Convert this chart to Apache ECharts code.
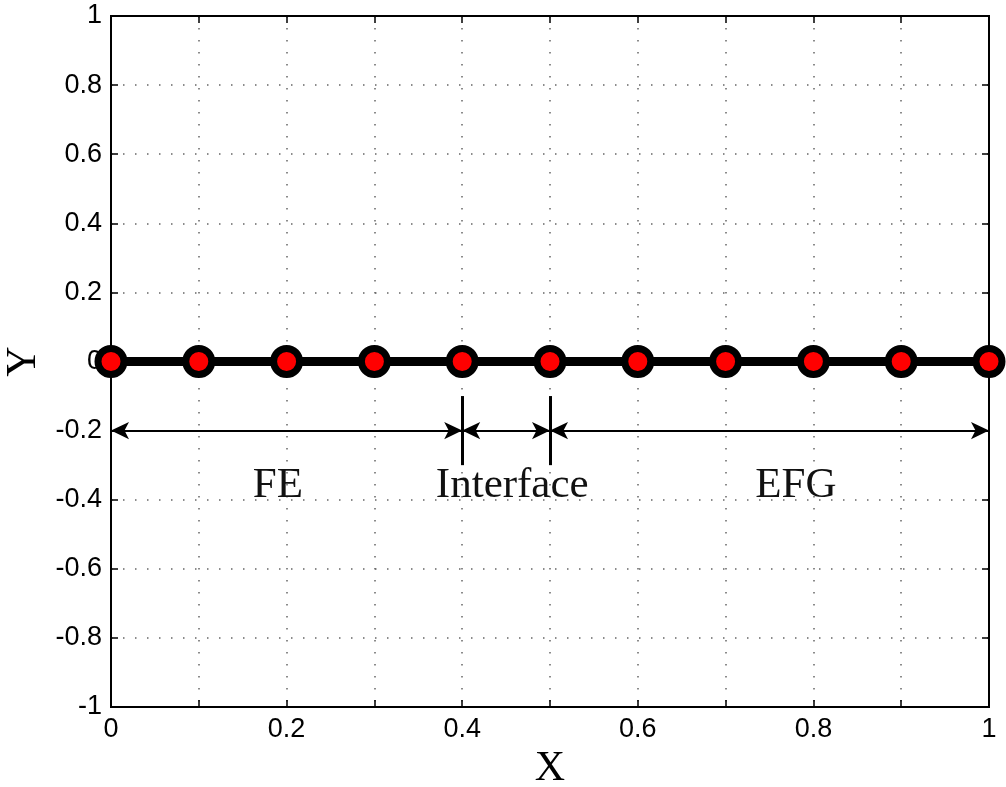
<!DOCTYPE html>
<html>
<head>
<meta charset="utf-8">
<script src="https://cdn.jsdelivr.net/npm/echarts@6/dist/echarts.min.js"></script>
<style>html,body{margin:0;padding:0;background:#fff;}#c{width:1006px;height:787px;}</style>
</head>
<body>
<div id="c"></div>
<script>
// Data
var nodeX = [0, 0.1, 0.2, 0.3, 0.4, 0.5, 0.6, 0.7, 0.8, 0.9, 1.0];
var nodeY = [0, 0, 0, 0, 0, 0, 0, 0, 0, 0, 0];
// Arrow spans at y = -0.2
var spanStart = [0, 0.4, 0.5];
var spanEnd = [0.4, 0.5, 1.0];
var spanY = -0.2;
// Divider bars
var barX = [0.4, 0.5];
var barYTop = -0.1;
var barYBottom = -0.3;
// Region labels
var regionText = ['FE', 'Interface', 'EFG'];
var regionX = [0.19, 0.457, 0.78];
var regionY = [-0.36, -0.36, -0.36];

var chart = echarts.init(document.getElementById('c'), null, {renderer: 'canvas'});

function fmtY(v) {
  var r = Math.round(v * 10) / 10;
  return String(r);
}
function fmtX(v) {
  var k = Math.round(v * 10);
  if (k % 2 !== 0) return '';
  return String(k / 10);
}

var sansFont = "'Liberation Sans', Arial, sans-serif";
var serifFont = "'Liberation Serif', 'Times New Roman', serif";
var gridLine = {show: true, lineStyle: {color: '#666', width: 1.5, type: [1.5, 10.5]}};
var tickStyle = {show: true, inside: true, length: 7, lineStyle: {color: '#000', width: 1.5}};

var arrowLines = spanStart.map(function (s, i) {
  return [{coord: [s, spanY]}, {coord: [spanEnd[i], spanY]}];
});
var barLines = barX.map(function (x) {
  return [{coord: [x, barYTop]}, {coord: [x, barYBottom]}];
});
var labelData = regionText.map(function (t, i) {
  return {value: [regionX[i], regionY[i]], name: t};
});

chart.setOption({
  animation: false,
  backgroundColor: '#fff',
  grid: {left: 111, right: 17, top: 16, bottom: 80, containLabel: false, outerBoundsMode: 'none',
         show: true, borderColor: '#000', borderWidth: 2, backgroundColor: 'transparent'},
  xAxis: [{
    type: 'value', min: 0, max: 1, interval: 0.1, position: 'bottom',
    axisLine: {show: true, onZero: false, lineStyle: {color: '#000', width: 2}},
    axisTick: tickStyle,
    axisLabel: {formatter: fmtX, color: '#000', fontFamily: sansFont, fontSize: 27, margin: 9},
    splitLine: gridLine,
    name: 'X', nameLocation: 'middle', nameGap: 38,
    nameTextStyle: {fontFamily: serifFont, fontSize: 42, color: '#000'}
  }, {
    type: 'value', min: 0, max: 1, interval: 0.1, position: 'top',
    axisLine: {show: true, onZero: false, lineStyle: {color: '#000', width: 2}},
    axisTick: tickStyle, axisLabel: {show: false}, splitLine: {show: false}
  }],
  yAxis: [{
    type: 'value', min: -1, max: 1, interval: 0.2, position: 'left',
    axisLine: {show: true, onZero: false, lineStyle: {color: '#000', width: 2}},
    axisTick: tickStyle,
    axisLabel: {formatter: fmtY, color: '#000', fontFamily: sansFont, fontSize: 27, margin: 9},
    splitLine: gridLine,
    name: 'Y', nameLocation: 'middle', nameGap: 62,
    nameTextStyle: {fontFamily: serifFont, fontSize: 42, color: '#000'}
  }, {
    type: 'value', min: -1, max: 1, interval: 0.2, position: 'right',
    axisLine: {show: true, onZero: false, lineStyle: {color: '#000', width: 2}},
    axisTick: tickStyle, axisLabel: {show: false}, splitLine: {show: false}
  }],
  series: [{
    type: 'line',
    data: nodeX.map(function (x, i) { return [x, nodeY[i]]; }),
    lineStyle: {color: '#000', width: 9},
    symbol: 'circle', symbolSize: 26,
    itemStyle: {color: '#ff0000', borderColor: '#000', borderWidth: 7},
    clip: false,
    z: 5,
    markLine: {
      silent: true,
      symbol: ['none', 'none'],
      label: {show: false},
      lineStyle: {color: '#000', width: 3, type: 'solid'},
      data: barLines
    }
  }, {
    type: 'line',
    data: [],
    markLine: {
      silent: true,
      symbol: ['arrow', 'arrow'],
      symbolSize: [13, 18],
      label: {show: false},
      lineStyle: {color: '#000', width: 2, type: 'solid'},
      itemStyle: {color: '#000'},
      data: arrowLines
    }
  }, {
    type: 'scatter',
    data: labelData,
    symbolSize: 0,
    silent: true,
    itemStyle: {opacity: 1},
    label: {
      show: true, position: 'inside', opacity: 1,
      formatter: function (p) { return p.name; },
      fontFamily: serifFont, fontSize: 43, color: '#111'
    }
  }]
});
</script>
</body>
</html>
